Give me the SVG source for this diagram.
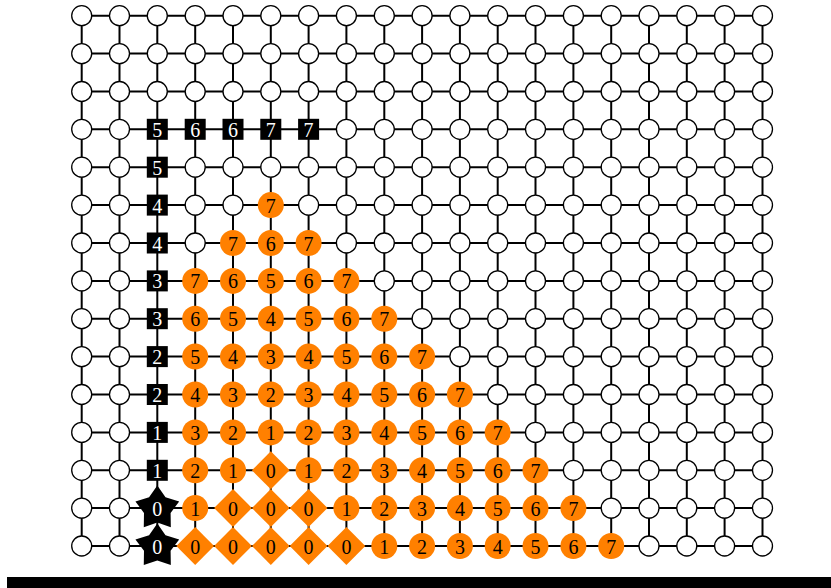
<svg xmlns="http://www.w3.org/2000/svg" width="831" height="588" viewBox="0 0 831 588">
<defs>
<style>
.e{stroke:#000;stroke-width:2;fill:none}
.w{fill:#fff;stroke:#000;stroke-width:1.3}
.o{fill:#ff8000}
.b{fill:#000}
text{font-family:"Liberation Serif","Times New Roman",serif;font-size:20px;text-anchor:middle}
.tk{fill:#000}
.tw{fill:#fff}
</style>
<circle id="wc" class="w" r="10"/>
<circle id="oc" class="o" r="13"/>
<rect id="sq" class="b" x="-10.5" y="-10.5" width="21" height="21"/>
<polygon id="dm" class="o" points="0,-19 18.9,0 0,19 -18.9,0"/>
<polygon id="st" class="b" points="0,-22.5 8.23,-10.8 21.87,-6.6 13.31,4.8 13.52,19.1 0,14.5 -13.52,19.1 -13.31,4.8 -21.87,-6.6 -8.23,-10.8"/>
</defs>
<g id="edges">
<line class="e" x1="81.7" y1="15.7" x2="762.5" y2="15.7"/>
<line class="e" x1="81.7" y1="53.6" x2="762.5" y2="53.6"/>
<line class="e" x1="81.7" y1="91.5" x2="762.5" y2="91.5"/>
<line class="e" x1="81.7" y1="129.3" x2="762.5" y2="129.3"/>
<line class="e" x1="81.7" y1="167.2" x2="762.5" y2="167.2"/>
<line class="e" x1="81.7" y1="205.1" x2="762.5" y2="205.1"/>
<line class="e" x1="81.7" y1="243.0" x2="762.5" y2="243.0"/>
<line class="e" x1="81.7" y1="280.9" x2="762.5" y2="280.9"/>
<line class="e" x1="81.7" y1="318.7" x2="762.5" y2="318.7"/>
<line class="e" x1="81.7" y1="356.6" x2="762.5" y2="356.6"/>
<line class="e" x1="81.7" y1="394.5" x2="762.5" y2="394.5"/>
<line class="e" x1="81.7" y1="432.4" x2="762.5" y2="432.4"/>
<line class="e" x1="81.7" y1="470.3" x2="762.5" y2="470.3"/>
<line class="e" x1="81.7" y1="508.1" x2="762.5" y2="508.1"/>
<line class="e" x1="81.7" y1="546.0" x2="762.5" y2="546.0"/>
<line class="e" x1="81.7" y1="15.7" x2="81.7" y2="546"/>
<line class="e" x1="119.5" y1="15.7" x2="119.5" y2="546"/>
<line class="e" x1="157.3" y1="15.7" x2="157.3" y2="546"/>
<line class="e" x1="195.2" y1="15.7" x2="195.2" y2="546"/>
<line class="e" x1="233.0" y1="15.7" x2="233.0" y2="546"/>
<line class="e" x1="270.8" y1="15.7" x2="270.8" y2="546"/>
<line class="e" x1="308.6" y1="15.7" x2="308.6" y2="546"/>
<line class="e" x1="346.4" y1="15.7" x2="346.4" y2="546"/>
<line class="e" x1="384.3" y1="15.7" x2="384.3" y2="546"/>
<line class="e" x1="422.1" y1="15.7" x2="422.1" y2="546"/>
<line class="e" x1="459.9" y1="15.7" x2="459.9" y2="546"/>
<line class="e" x1="497.7" y1="15.7" x2="497.7" y2="546"/>
<line class="e" x1="535.5" y1="15.7" x2="535.5" y2="546"/>
<line class="e" x1="573.4" y1="15.7" x2="573.4" y2="546"/>
<line class="e" x1="611.2" y1="15.7" x2="611.2" y2="546"/>
<line class="e" x1="649.0" y1="15.7" x2="649.0" y2="546"/>
<line class="e" x1="686.8" y1="15.7" x2="686.8" y2="546"/>
<line class="e" x1="724.6" y1="15.7" x2="724.6" y2="546"/>
<line class="e" x1="762.5" y1="15.7" x2="762.5" y2="546"/>
</g>
<g id="nodes">
<!-- row 0 -->
<g id="n0_0" transform="translate(81.7,15.7)"><use href="#wc"/></g>
<g id="n0_1" transform="translate(119.5,15.7)"><use href="#wc"/></g>
<g id="n0_2" transform="translate(157.3,15.7)"><use href="#wc"/></g>
<g id="n0_3" transform="translate(195.2,15.7)"><use href="#wc"/></g>
<g id="n0_4" transform="translate(233.0,15.7)"><use href="#wc"/></g>
<g id="n0_5" transform="translate(270.8,15.7)"><use href="#wc"/></g>
<g id="n0_6" transform="translate(308.6,15.7)"><use href="#wc"/></g>
<g id="n0_7" transform="translate(346.4,15.7)"><use href="#wc"/></g>
<g id="n0_8" transform="translate(384.3,15.7)"><use href="#wc"/></g>
<g id="n0_9" transform="translate(422.1,15.7)"><use href="#wc"/></g>
<g id="n0_10" transform="translate(459.9,15.7)"><use href="#wc"/></g>
<g id="n0_11" transform="translate(497.7,15.7)"><use href="#wc"/></g>
<g id="n0_12" transform="translate(535.5,15.7)"><use href="#wc"/></g>
<g id="n0_13" transform="translate(573.4,15.7)"><use href="#wc"/></g>
<g id="n0_14" transform="translate(611.2,15.7)"><use href="#wc"/></g>
<g id="n0_15" transform="translate(649.0,15.7)"><use href="#wc"/></g>
<g id="n0_16" transform="translate(686.8,15.7)"><use href="#wc"/></g>
<g id="n0_17" transform="translate(724.6,15.7)"><use href="#wc"/></g>
<g id="n0_18" transform="translate(762.5,15.7)"><use href="#wc"/></g>
<!-- row 1 -->
<g id="n1_0" transform="translate(81.7,53.6)"><use href="#wc"/></g>
<g id="n1_1" transform="translate(119.5,53.6)"><use href="#wc"/></g>
<g id="n1_2" transform="translate(157.3,53.6)"><use href="#wc"/></g>
<g id="n1_3" transform="translate(195.2,53.6)"><use href="#wc"/></g>
<g id="n1_4" transform="translate(233.0,53.6)"><use href="#wc"/></g>
<g id="n1_5" transform="translate(270.8,53.6)"><use href="#wc"/></g>
<g id="n1_6" transform="translate(308.6,53.6)"><use href="#wc"/></g>
<g id="n1_7" transform="translate(346.4,53.6)"><use href="#wc"/></g>
<g id="n1_8" transform="translate(384.3,53.6)"><use href="#wc"/></g>
<g id="n1_9" transform="translate(422.1,53.6)"><use href="#wc"/></g>
<g id="n1_10" transform="translate(459.9,53.6)"><use href="#wc"/></g>
<g id="n1_11" transform="translate(497.7,53.6)"><use href="#wc"/></g>
<g id="n1_12" transform="translate(535.5,53.6)"><use href="#wc"/></g>
<g id="n1_13" transform="translate(573.4,53.6)"><use href="#wc"/></g>
<g id="n1_14" transform="translate(611.2,53.6)"><use href="#wc"/></g>
<g id="n1_15" transform="translate(649.0,53.6)"><use href="#wc"/></g>
<g id="n1_16" transform="translate(686.8,53.6)"><use href="#wc"/></g>
<g id="n1_17" transform="translate(724.6,53.6)"><use href="#wc"/></g>
<g id="n1_18" transform="translate(762.5,53.6)"><use href="#wc"/></g>
<!-- row 2 -->
<g id="n2_0" transform="translate(81.7,91.5)"><use href="#wc"/></g>
<g id="n2_1" transform="translate(119.5,91.5)"><use href="#wc"/></g>
<g id="n2_2" transform="translate(157.3,91.5)"><use href="#wc"/></g>
<g id="n2_3" transform="translate(195.2,91.5)"><use href="#wc"/></g>
<g id="n2_4" transform="translate(233.0,91.5)"><use href="#wc"/></g>
<g id="n2_5" transform="translate(270.8,91.5)"><use href="#wc"/></g>
<g id="n2_6" transform="translate(308.6,91.5)"><use href="#wc"/></g>
<g id="n2_7" transform="translate(346.4,91.5)"><use href="#wc"/></g>
<g id="n2_8" transform="translate(384.3,91.5)"><use href="#wc"/></g>
<g id="n2_9" transform="translate(422.1,91.5)"><use href="#wc"/></g>
<g id="n2_10" transform="translate(459.9,91.5)"><use href="#wc"/></g>
<g id="n2_11" transform="translate(497.7,91.5)"><use href="#wc"/></g>
<g id="n2_12" transform="translate(535.5,91.5)"><use href="#wc"/></g>
<g id="n2_13" transform="translate(573.4,91.5)"><use href="#wc"/></g>
<g id="n2_14" transform="translate(611.2,91.5)"><use href="#wc"/></g>
<g id="n2_15" transform="translate(649.0,91.5)"><use href="#wc"/></g>
<g id="n2_16" transform="translate(686.8,91.5)"><use href="#wc"/></g>
<g id="n2_17" transform="translate(724.6,91.5)"><use href="#wc"/></g>
<g id="n2_18" transform="translate(762.5,91.5)"><use href="#wc"/></g>
<!-- row 3 -->
<g id="n3_0" transform="translate(81.7,129.3)"><use href="#wc"/></g>
<g id="n3_1" transform="translate(119.5,129.3)"><use href="#wc"/></g>
<g id="n3_2" transform="translate(157.3,129.3)"><use href="#sq"/><text class="tw" y="7.5">5</text></g>
<g id="n3_3" transform="translate(195.2,129.3)"><use href="#sq"/><text class="tw" y="7.5">6</text></g>
<g id="n3_4" transform="translate(233.0,129.3)"><use href="#sq"/><text class="tw" y="7.5">6</text></g>
<g id="n3_5" transform="translate(270.8,129.3)"><use href="#sq"/><text class="tw" y="7.5">7</text></g>
<g id="n3_6" transform="translate(308.6,129.3)"><use href="#sq"/><text class="tw" y="7.5">7</text></g>
<g id="n3_7" transform="translate(346.4,129.3)"><use href="#wc"/></g>
<g id="n3_8" transform="translate(384.3,129.3)"><use href="#wc"/></g>
<g id="n3_9" transform="translate(422.1,129.3)"><use href="#wc"/></g>
<g id="n3_10" transform="translate(459.9,129.3)"><use href="#wc"/></g>
<g id="n3_11" transform="translate(497.7,129.3)"><use href="#wc"/></g>
<g id="n3_12" transform="translate(535.5,129.3)"><use href="#wc"/></g>
<g id="n3_13" transform="translate(573.4,129.3)"><use href="#wc"/></g>
<g id="n3_14" transform="translate(611.2,129.3)"><use href="#wc"/></g>
<g id="n3_15" transform="translate(649.0,129.3)"><use href="#wc"/></g>
<g id="n3_16" transform="translate(686.8,129.3)"><use href="#wc"/></g>
<g id="n3_17" transform="translate(724.6,129.3)"><use href="#wc"/></g>
<g id="n3_18" transform="translate(762.5,129.3)"><use href="#wc"/></g>
<!-- row 4 -->
<g id="n4_0" transform="translate(81.7,167.2)"><use href="#wc"/></g>
<g id="n4_1" transform="translate(119.5,167.2)"><use href="#wc"/></g>
<g id="n4_2" transform="translate(157.3,167.2)"><use href="#sq"/><text class="tw" y="7.5">5</text></g>
<g id="n4_3" transform="translate(195.2,167.2)"><use href="#wc"/></g>
<g id="n4_4" transform="translate(233.0,167.2)"><use href="#wc"/></g>
<g id="n4_5" transform="translate(270.8,167.2)"><use href="#wc"/></g>
<g id="n4_6" transform="translate(308.6,167.2)"><use href="#wc"/></g>
<g id="n4_7" transform="translate(346.4,167.2)"><use href="#wc"/></g>
<g id="n4_8" transform="translate(384.3,167.2)"><use href="#wc"/></g>
<g id="n4_9" transform="translate(422.1,167.2)"><use href="#wc"/></g>
<g id="n4_10" transform="translate(459.9,167.2)"><use href="#wc"/></g>
<g id="n4_11" transform="translate(497.7,167.2)"><use href="#wc"/></g>
<g id="n4_12" transform="translate(535.5,167.2)"><use href="#wc"/></g>
<g id="n4_13" transform="translate(573.4,167.2)"><use href="#wc"/></g>
<g id="n4_14" transform="translate(611.2,167.2)"><use href="#wc"/></g>
<g id="n4_15" transform="translate(649.0,167.2)"><use href="#wc"/></g>
<g id="n4_16" transform="translate(686.8,167.2)"><use href="#wc"/></g>
<g id="n4_17" transform="translate(724.6,167.2)"><use href="#wc"/></g>
<g id="n4_18" transform="translate(762.5,167.2)"><use href="#wc"/></g>
<!-- row 5 -->
<g id="n5_0" transform="translate(81.7,205.1)"><use href="#wc"/></g>
<g id="n5_1" transform="translate(119.5,205.1)"><use href="#wc"/></g>
<g id="n5_2" transform="translate(157.3,205.1)"><use href="#sq"/><text class="tw" y="7.5">4</text></g>
<g id="n5_3" transform="translate(195.2,205.1)"><use href="#wc"/></g>
<g id="n5_4" transform="translate(233.0,205.1)"><use href="#wc"/></g>
<g id="n5_5" transform="translate(270.8,205.1)"><use href="#oc"/><text class="tk" y="7.5">7</text></g>
<g id="n5_6" transform="translate(308.6,205.1)"><use href="#wc"/></g>
<g id="n5_7" transform="translate(346.4,205.1)"><use href="#wc"/></g>
<g id="n5_8" transform="translate(384.3,205.1)"><use href="#wc"/></g>
<g id="n5_9" transform="translate(422.1,205.1)"><use href="#wc"/></g>
<g id="n5_10" transform="translate(459.9,205.1)"><use href="#wc"/></g>
<g id="n5_11" transform="translate(497.7,205.1)"><use href="#wc"/></g>
<g id="n5_12" transform="translate(535.5,205.1)"><use href="#wc"/></g>
<g id="n5_13" transform="translate(573.4,205.1)"><use href="#wc"/></g>
<g id="n5_14" transform="translate(611.2,205.1)"><use href="#wc"/></g>
<g id="n5_15" transform="translate(649.0,205.1)"><use href="#wc"/></g>
<g id="n5_16" transform="translate(686.8,205.1)"><use href="#wc"/></g>
<g id="n5_17" transform="translate(724.6,205.1)"><use href="#wc"/></g>
<g id="n5_18" transform="translate(762.5,205.1)"><use href="#wc"/></g>
<!-- row 6 -->
<g id="n6_0" transform="translate(81.7,243.0)"><use href="#wc"/></g>
<g id="n6_1" transform="translate(119.5,243.0)"><use href="#wc"/></g>
<g id="n6_2" transform="translate(157.3,243.0)"><use href="#sq"/><text class="tw" y="7.5">4</text></g>
<g id="n6_3" transform="translate(195.2,243.0)"><use href="#wc"/></g>
<g id="n6_4" transform="translate(233.0,243.0)"><use href="#oc"/><text class="tk" y="7.5">7</text></g>
<g id="n6_5" transform="translate(270.8,243.0)"><use href="#oc"/><text class="tk" y="7.5">6</text></g>
<g id="n6_6" transform="translate(308.6,243.0)"><use href="#oc"/><text class="tk" y="7.5">7</text></g>
<g id="n6_7" transform="translate(346.4,243.0)"><use href="#wc"/></g>
<g id="n6_8" transform="translate(384.3,243.0)"><use href="#wc"/></g>
<g id="n6_9" transform="translate(422.1,243.0)"><use href="#wc"/></g>
<g id="n6_10" transform="translate(459.9,243.0)"><use href="#wc"/></g>
<g id="n6_11" transform="translate(497.7,243.0)"><use href="#wc"/></g>
<g id="n6_12" transform="translate(535.5,243.0)"><use href="#wc"/></g>
<g id="n6_13" transform="translate(573.4,243.0)"><use href="#wc"/></g>
<g id="n6_14" transform="translate(611.2,243.0)"><use href="#wc"/></g>
<g id="n6_15" transform="translate(649.0,243.0)"><use href="#wc"/></g>
<g id="n6_16" transform="translate(686.8,243.0)"><use href="#wc"/></g>
<g id="n6_17" transform="translate(724.6,243.0)"><use href="#wc"/></g>
<g id="n6_18" transform="translate(762.5,243.0)"><use href="#wc"/></g>
<!-- row 7 -->
<g id="n7_0" transform="translate(81.7,280.9)"><use href="#wc"/></g>
<g id="n7_1" transform="translate(119.5,280.9)"><use href="#wc"/></g>
<g id="n7_2" transform="translate(157.3,280.9)"><use href="#sq"/><text class="tw" y="7.5">3</text></g>
<g id="n7_3" transform="translate(195.2,280.9)"><use href="#oc"/><text class="tk" y="7.5">7</text></g>
<g id="n7_4" transform="translate(233.0,280.9)"><use href="#oc"/><text class="tk" y="7.5">6</text></g>
<g id="n7_5" transform="translate(270.8,280.9)"><use href="#oc"/><text class="tk" y="7.5">5</text></g>
<g id="n7_6" transform="translate(308.6,280.9)"><use href="#oc"/><text class="tk" y="7.5">6</text></g>
<g id="n7_7" transform="translate(346.4,280.9)"><use href="#oc"/><text class="tk" y="7.5">7</text></g>
<g id="n7_8" transform="translate(384.3,280.9)"><use href="#wc"/></g>
<g id="n7_9" transform="translate(422.1,280.9)"><use href="#wc"/></g>
<g id="n7_10" transform="translate(459.9,280.9)"><use href="#wc"/></g>
<g id="n7_11" transform="translate(497.7,280.9)"><use href="#wc"/></g>
<g id="n7_12" transform="translate(535.5,280.9)"><use href="#wc"/></g>
<g id="n7_13" transform="translate(573.4,280.9)"><use href="#wc"/></g>
<g id="n7_14" transform="translate(611.2,280.9)"><use href="#wc"/></g>
<g id="n7_15" transform="translate(649.0,280.9)"><use href="#wc"/></g>
<g id="n7_16" transform="translate(686.8,280.9)"><use href="#wc"/></g>
<g id="n7_17" transform="translate(724.6,280.9)"><use href="#wc"/></g>
<g id="n7_18" transform="translate(762.5,280.9)"><use href="#wc"/></g>
<!-- row 8 -->
<g id="n8_0" transform="translate(81.7,318.7)"><use href="#wc"/></g>
<g id="n8_1" transform="translate(119.5,318.7)"><use href="#wc"/></g>
<g id="n8_2" transform="translate(157.3,318.7)"><use href="#sq"/><text class="tw" y="7.5">3</text></g>
<g id="n8_3" transform="translate(195.2,318.7)"><use href="#oc"/><text class="tk" y="7.5">6</text></g>
<g id="n8_4" transform="translate(233.0,318.7)"><use href="#oc"/><text class="tk" y="7.5">5</text></g>
<g id="n8_5" transform="translate(270.8,318.7)"><use href="#oc"/><text class="tk" y="7.5">4</text></g>
<g id="n8_6" transform="translate(308.6,318.7)"><use href="#oc"/><text class="tk" y="7.5">5</text></g>
<g id="n8_7" transform="translate(346.4,318.7)"><use href="#oc"/><text class="tk" y="7.5">6</text></g>
<g id="n8_8" transform="translate(384.3,318.7)"><use href="#oc"/><text class="tk" y="7.5">7</text></g>
<g id="n8_9" transform="translate(422.1,318.7)"><use href="#wc"/></g>
<g id="n8_10" transform="translate(459.9,318.7)"><use href="#wc"/></g>
<g id="n8_11" transform="translate(497.7,318.7)"><use href="#wc"/></g>
<g id="n8_12" transform="translate(535.5,318.7)"><use href="#wc"/></g>
<g id="n8_13" transform="translate(573.4,318.7)"><use href="#wc"/></g>
<g id="n8_14" transform="translate(611.2,318.7)"><use href="#wc"/></g>
<g id="n8_15" transform="translate(649.0,318.7)"><use href="#wc"/></g>
<g id="n8_16" transform="translate(686.8,318.7)"><use href="#wc"/></g>
<g id="n8_17" transform="translate(724.6,318.7)"><use href="#wc"/></g>
<g id="n8_18" transform="translate(762.5,318.7)"><use href="#wc"/></g>
<!-- row 9 -->
<g id="n9_0" transform="translate(81.7,356.6)"><use href="#wc"/></g>
<g id="n9_1" transform="translate(119.5,356.6)"><use href="#wc"/></g>
<g id="n9_2" transform="translate(157.3,356.6)"><use href="#sq"/><text class="tw" y="7.5">2</text></g>
<g id="n9_3" transform="translate(195.2,356.6)"><use href="#oc"/><text class="tk" y="7.5">5</text></g>
<g id="n9_4" transform="translate(233.0,356.6)"><use href="#oc"/><text class="tk" y="7.5">4</text></g>
<g id="n9_5" transform="translate(270.8,356.6)"><use href="#oc"/><text class="tk" y="7.5">3</text></g>
<g id="n9_6" transform="translate(308.6,356.6)"><use href="#oc"/><text class="tk" y="7.5">4</text></g>
<g id="n9_7" transform="translate(346.4,356.6)"><use href="#oc"/><text class="tk" y="7.5">5</text></g>
<g id="n9_8" transform="translate(384.3,356.6)"><use href="#oc"/><text class="tk" y="7.5">6</text></g>
<g id="n9_9" transform="translate(422.1,356.6)"><use href="#oc"/><text class="tk" y="7.5">7</text></g>
<g id="n9_10" transform="translate(459.9,356.6)"><use href="#wc"/></g>
<g id="n9_11" transform="translate(497.7,356.6)"><use href="#wc"/></g>
<g id="n9_12" transform="translate(535.5,356.6)"><use href="#wc"/></g>
<g id="n9_13" transform="translate(573.4,356.6)"><use href="#wc"/></g>
<g id="n9_14" transform="translate(611.2,356.6)"><use href="#wc"/></g>
<g id="n9_15" transform="translate(649.0,356.6)"><use href="#wc"/></g>
<g id="n9_16" transform="translate(686.8,356.6)"><use href="#wc"/></g>
<g id="n9_17" transform="translate(724.6,356.6)"><use href="#wc"/></g>
<g id="n9_18" transform="translate(762.5,356.6)"><use href="#wc"/></g>
<!-- row 10 -->
<g id="n10_0" transform="translate(81.7,394.5)"><use href="#wc"/></g>
<g id="n10_1" transform="translate(119.5,394.5)"><use href="#wc"/></g>
<g id="n10_2" transform="translate(157.3,394.5)"><use href="#sq"/><text class="tw" y="7.5">2</text></g>
<g id="n10_3" transform="translate(195.2,394.5)"><use href="#oc"/><text class="tk" y="7.5">4</text></g>
<g id="n10_4" transform="translate(233.0,394.5)"><use href="#oc"/><text class="tk" y="7.5">3</text></g>
<g id="n10_5" transform="translate(270.8,394.5)"><use href="#oc"/><text class="tk" y="7.5">2</text></g>
<g id="n10_6" transform="translate(308.6,394.5)"><use href="#oc"/><text class="tk" y="7.5">3</text></g>
<g id="n10_7" transform="translate(346.4,394.5)"><use href="#oc"/><text class="tk" y="7.5">4</text></g>
<g id="n10_8" transform="translate(384.3,394.5)"><use href="#oc"/><text class="tk" y="7.5">5</text></g>
<g id="n10_9" transform="translate(422.1,394.5)"><use href="#oc"/><text class="tk" y="7.5">6</text></g>
<g id="n10_10" transform="translate(459.9,394.5)"><use href="#oc"/><text class="tk" y="7.5">7</text></g>
<g id="n10_11" transform="translate(497.7,394.5)"><use href="#wc"/></g>
<g id="n10_12" transform="translate(535.5,394.5)"><use href="#wc"/></g>
<g id="n10_13" transform="translate(573.4,394.5)"><use href="#wc"/></g>
<g id="n10_14" transform="translate(611.2,394.5)"><use href="#wc"/></g>
<g id="n10_15" transform="translate(649.0,394.5)"><use href="#wc"/></g>
<g id="n10_16" transform="translate(686.8,394.5)"><use href="#wc"/></g>
<g id="n10_17" transform="translate(724.6,394.5)"><use href="#wc"/></g>
<g id="n10_18" transform="translate(762.5,394.5)"><use href="#wc"/></g>
<!-- row 11 -->
<g id="n11_0" transform="translate(81.7,432.4)"><use href="#wc"/></g>
<g id="n11_1" transform="translate(119.5,432.4)"><use href="#wc"/></g>
<g id="n11_2" transform="translate(157.3,432.4)"><use href="#sq"/><text class="tw" y="7.5">1</text></g>
<g id="n11_3" transform="translate(195.2,432.4)"><use href="#oc"/><text class="tk" y="7.5">3</text></g>
<g id="n11_4" transform="translate(233.0,432.4)"><use href="#oc"/><text class="tk" y="7.5">2</text></g>
<g id="n11_5" transform="translate(270.8,432.4)"><use href="#oc"/><text class="tk" y="7.5">1</text></g>
<g id="n11_6" transform="translate(308.6,432.4)"><use href="#oc"/><text class="tk" y="7.5">2</text></g>
<g id="n11_7" transform="translate(346.4,432.4)"><use href="#oc"/><text class="tk" y="7.5">3</text></g>
<g id="n11_8" transform="translate(384.3,432.4)"><use href="#oc"/><text class="tk" y="7.5">4</text></g>
<g id="n11_9" transform="translate(422.1,432.4)"><use href="#oc"/><text class="tk" y="7.5">5</text></g>
<g id="n11_10" transform="translate(459.9,432.4)"><use href="#oc"/><text class="tk" y="7.5">6</text></g>
<g id="n11_11" transform="translate(497.7,432.4)"><use href="#oc"/><text class="tk" y="7.5">7</text></g>
<g id="n11_12" transform="translate(535.5,432.4)"><use href="#wc"/></g>
<g id="n11_13" transform="translate(573.4,432.4)"><use href="#wc"/></g>
<g id="n11_14" transform="translate(611.2,432.4)"><use href="#wc"/></g>
<g id="n11_15" transform="translate(649.0,432.4)"><use href="#wc"/></g>
<g id="n11_16" transform="translate(686.8,432.4)"><use href="#wc"/></g>
<g id="n11_17" transform="translate(724.6,432.4)"><use href="#wc"/></g>
<g id="n11_18" transform="translate(762.5,432.4)"><use href="#wc"/></g>
<!-- row 12 -->
<g id="n12_0" transform="translate(81.7,470.3)"><use href="#wc"/></g>
<g id="n12_1" transform="translate(119.5,470.3)"><use href="#wc"/></g>
<g id="n12_2" transform="translate(157.3,470.3)"><use href="#sq"/><text class="tw" y="7.5">1</text></g>
<g id="n12_3" transform="translate(195.2,470.3)"><use href="#oc"/><text class="tk" y="7.5">2</text></g>
<g id="n12_4" transform="translate(233.0,470.3)"><use href="#oc"/><text class="tk" y="7.5">1</text></g>
<g id="n12_5" transform="translate(270.8,470.3)"><use href="#dm"/><text class="tk" y="7.5">0</text></g>
<g id="n12_6" transform="translate(308.6,470.3)"><use href="#oc"/><text class="tk" y="7.5">1</text></g>
<g id="n12_7" transform="translate(346.4,470.3)"><use href="#oc"/><text class="tk" y="7.5">2</text></g>
<g id="n12_8" transform="translate(384.3,470.3)"><use href="#oc"/><text class="tk" y="7.5">3</text></g>
<g id="n12_9" transform="translate(422.1,470.3)"><use href="#oc"/><text class="tk" y="7.5">4</text></g>
<g id="n12_10" transform="translate(459.9,470.3)"><use href="#oc"/><text class="tk" y="7.5">5</text></g>
<g id="n12_11" transform="translate(497.7,470.3)"><use href="#oc"/><text class="tk" y="7.5">6</text></g>
<g id="n12_12" transform="translate(535.5,470.3)"><use href="#oc"/><text class="tk" y="7.5">7</text></g>
<g id="n12_13" transform="translate(573.4,470.3)"><use href="#wc"/></g>
<g id="n12_14" transform="translate(611.2,470.3)"><use href="#wc"/></g>
<g id="n12_15" transform="translate(649.0,470.3)"><use href="#wc"/></g>
<g id="n12_16" transform="translate(686.8,470.3)"><use href="#wc"/></g>
<g id="n12_17" transform="translate(724.6,470.3)"><use href="#wc"/></g>
<g id="n12_18" transform="translate(762.5,470.3)"><use href="#wc"/></g>
<!-- row 13 -->
<g id="n13_0" transform="translate(81.7,508.1)"><use href="#wc"/></g>
<g id="n13_1" transform="translate(119.5,508.1)"><use href="#wc"/></g>
<g id="n13_2" transform="translate(157.3,508.1)"><use href="#st"/><text class="tw" y="7.5">0</text></g>
<g id="n13_3" transform="translate(195.2,508.1)"><use href="#oc"/><text class="tk" y="7.5">1</text></g>
<g id="n13_4" transform="translate(233.0,508.1)"><use href="#dm"/><text class="tk" y="7.5">0</text></g>
<g id="n13_5" transform="translate(270.8,508.1)"><use href="#dm"/><text class="tk" y="7.5">0</text></g>
<g id="n13_6" transform="translate(308.6,508.1)"><use href="#dm"/><text class="tk" y="7.5">0</text></g>
<g id="n13_7" transform="translate(346.4,508.1)"><use href="#oc"/><text class="tk" y="7.5">1</text></g>
<g id="n13_8" transform="translate(384.3,508.1)"><use href="#oc"/><text class="tk" y="7.5">2</text></g>
<g id="n13_9" transform="translate(422.1,508.1)"><use href="#oc"/><text class="tk" y="7.5">3</text></g>
<g id="n13_10" transform="translate(459.9,508.1)"><use href="#oc"/><text class="tk" y="7.5">4</text></g>
<g id="n13_11" transform="translate(497.7,508.1)"><use href="#oc"/><text class="tk" y="7.5">5</text></g>
<g id="n13_12" transform="translate(535.5,508.1)"><use href="#oc"/><text class="tk" y="7.5">6</text></g>
<g id="n13_13" transform="translate(573.4,508.1)"><use href="#oc"/><text class="tk" y="7.5">7</text></g>
<g id="n13_14" transform="translate(611.2,508.1)"><use href="#wc"/></g>
<g id="n13_15" transform="translate(649.0,508.1)"><use href="#wc"/></g>
<g id="n13_16" transform="translate(686.8,508.1)"><use href="#wc"/></g>
<g id="n13_17" transform="translate(724.6,508.1)"><use href="#wc"/></g>
<g id="n13_18" transform="translate(762.5,508.1)"><use href="#wc"/></g>
<!-- row 14 -->
<g id="n14_0" transform="translate(81.7,546.0)"><use href="#wc"/></g>
<g id="n14_1" transform="translate(119.5,546.0)"><use href="#wc"/></g>
<g id="n14_2" transform="translate(157.3,546.0)"><use href="#st"/><text class="tw" y="7.5">0</text></g>
<g id="n14_3" transform="translate(195.2,546.0)"><use href="#dm"/><text class="tk" y="7.5">0</text></g>
<g id="n14_4" transform="translate(233.0,546.0)"><use href="#dm"/><text class="tk" y="7.5">0</text></g>
<g id="n14_5" transform="translate(270.8,546.0)"><use href="#dm"/><text class="tk" y="7.5">0</text></g>
<g id="n14_6" transform="translate(308.6,546.0)"><use href="#dm"/><text class="tk" y="7.5">0</text></g>
<g id="n14_7" transform="translate(346.4,546.0)"><use href="#dm"/><text class="tk" y="7.5">0</text></g>
<g id="n14_8" transform="translate(384.3,546.0)"><use href="#oc"/><text class="tk" y="7.5">1</text></g>
<g id="n14_9" transform="translate(422.1,546.0)"><use href="#oc"/><text class="tk" y="7.5">2</text></g>
<g id="n14_10" transform="translate(459.9,546.0)"><use href="#oc"/><text class="tk" y="7.5">3</text></g>
<g id="n14_11" transform="translate(497.7,546.0)"><use href="#oc"/><text class="tk" y="7.5">4</text></g>
<g id="n14_12" transform="translate(535.5,546.0)"><use href="#oc"/><text class="tk" y="7.5">5</text></g>
<g id="n14_13" transform="translate(573.4,546.0)"><use href="#oc"/><text class="tk" y="7.5">6</text></g>
<g id="n14_14" transform="translate(611.2,546.0)"><use href="#oc"/><text class="tk" y="7.5">7</text></g>
<g id="n14_15" transform="translate(649.0,546.0)"><use href="#wc"/></g>
<g id="n14_16" transform="translate(686.8,546.0)"><use href="#wc"/></g>
<g id="n14_17" transform="translate(724.6,546.0)"><use href="#wc"/></g>
<g id="n14_18" transform="translate(762.5,546.0)"><use href="#wc"/></g>
</g>
<rect x="7" y="577" width="824" height="11" fill="#000"/>
</svg>
